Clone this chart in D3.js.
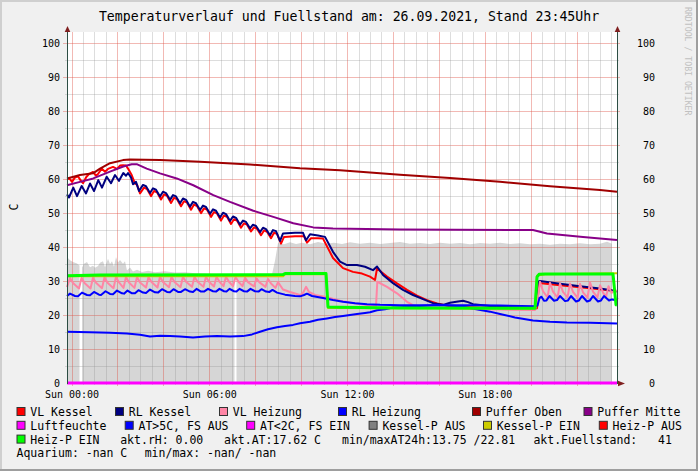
<!DOCTYPE html>
<html><head><meta charset="utf-8">
<script src="https://cdn.jsdelivr.net/npm/d3@7"></script>
<style>
html,body{margin:0;padding:0;background:#f0f0f0;}
svg{display:block;}
text{font-family:"DejaVu Sans Mono",monospace;}
</style></head><body>
<svg id="c" width="698" height="471"></svg>
<script>
// ---------------- DATA ----------------
const titleText = "Temperaturverlauf und Fuellstand am: 26.09.2021, Stand 23:45Uhr";
const yAxisTitle = "C";
const watermark = "RRDTOOL / TOBI OETIKER";
const timeDomain = [-0.196, 23.758];      // hours relative to Sun 00:00
const valueDomain = [0, 103.3];
const yTicks = [0,10,20,30,40,50,60,70,80,90,100];
const xTickHours = [0,6,12,18];
const xTickLabels = ["Sun 00:00","Sun 06:00","Sun 12:00","Sun 18:00"];

// Fuellstand (grey area), null = gap
const fuellstand = [[-0.196,37.1],[-0.065,36.1],[0.065,35.6],[0.240,35.2],[0.348,34.6],[0.37,null],[0.435,null],[0.457,34.0],[0.544,35.1],[0.675,35.6],[0.806,34.1],[0.936,34.5],[1.024,33.9],[1.154,34.4],[1.241,35.4],[1.372,35.8],[1.459,34.1],[1.590,36.6],[1.677,35.0],[1.764,35.8],[1.851,34.2],[1.938,37.1],[2.025,35.5],[2.112,36.2],[2.243,35.1],[2.330,35.8],[2.417,33.1],[2.548,34.0],[2.679,32.8],[2.853,33.3],[3.070,32.7],[3.332,33.0],[3.637,32.6],[4.072,32.9],[4.508,32.5],[4.943,32.6],[5.379,32.3],[5.815,32.2],[6.250,32.0],[6.686,31.9],[7.099,31.8],[7.13,null],[7.17,null],[7.186,31.7],[7.774,31.8],[8.297,31.8],[8.733,32.0],[8.863,36.0],[8.994,41.2],[9.255,40.8],[9.517,41.4],[9.778,40.9],[10.040,41.3],[10.388,40.8],[10.736,41.5],[11.085,41.0],[11.433,41.3],[11.781,40.9],[12.130,41.4],[12.565,41.0],[13.001,41.3],[13.436,40.9],[13.872,41.2],[14.307,41.5],[14.743,41.0],[15.178,41.2],[15.614,40.9],[16.049,41.3],[16.485,41.0],[16.920,41.2],[17.356,40.8],[17.792,41.2],[18.227,41.0],[18.663,41.3],[19.098,40.9],[19.534,41.1],[19.969,40.8],[20.405,41.0],[20.840,40.7],[21.276,41.0],[21.711,40.8],[22.147,41.1],[22.583,40.8],[23.018,41.0],[23.323,41.6],[23.540,41.0],[23.56,null]];

const vlKessel = [[-0.196,60.2],[-0.065,60.0],[0.022,59.2],[0.152,60.5],[0.283,60.8],[0.414,59.5],[0.501,58.8],[0.632,60.5],[0.762,61.5],[0.936,62.1],[1.067,61.0],[1.154,61.5],[1.315,63.1],[1.459,62.2],[1.590,63.0],[1.808,63.6],[1.982,63.0],[2.112,64.0],[2.243,64.1],[2.374,64.0],[2.461,63.1],[2.622,61.2],[2.766,58.7],[2.853,58.4],[2.984,55.8],[3.158,57.5],[3.288,57.1],[3.462,55.0],[3.593,56.5],[3.724,56.1],[3.898,54.0],[4.029,55.5],[4.159,55.1],[4.334,53.0],[4.464,54.5],[4.595,54.1],[4.769,52.0],[4.900,53.5],[5.030,53.1],[5.205,51.0],[5.335,52.5],[5.466,52.1],[5.640,50.0],[5.771,51.4],[5.902,51.0],[6.076,48.9],[6.206,50.3],[6.337,49.9],[6.511,47.8],[6.642,49.3],[6.773,48.9],[6.947,46.8],[7.077,48.2],[7.208,47.8],[7.382,45.7],[7.513,47.0],[7.644,46.6],[7.818,44.6],[7.948,45.8],[8.079,45.4],[8.253,43.5],[8.384,44.9],[8.515,44.5],[8.689,42.6],[8.820,44.2],[8.950,43.9],[9.125,41.0],[9.255,43.0],[9.734,43.2],[10.127,43.2],[10.257,41.3],[10.431,42.6],[10.736,42.6],[10.954,42.5],[11.389,36.8],[11.825,33.8],[12.261,32.7],[12.653,32.2],[13.001,31.3],[13.219,30.3],[13.306,33.7],[13.741,31.3],[14.177,29.3],[14.613,27.4],[15.048,25.7],[15.484,24.4],[15.919,23.4],[16.485,22.6],[17.356,22.3],[18.663,22.0],[20.187,21.9],[20.274,22.0],[20.361,29.4],[21.276,28.8],[22.147,28.2],[23.018,27.6],[23.758,27.0]];

const rlKessel = [[-0.196,55.5],[-0.109,54.6],[0.078,57.5],[0.240,55.0],[0.444,58.0],[0.632,55.8],[0.806,58.7],[0.980,56.5],[1.167,59.7],[1.328,57.5],[1.533,60.7],[1.720,58.8],[1.895,61.2],[2.069,59.5],[2.256,61.8],[2.374,61.0],[2.461,61.8],[2.591,60.5],[2.679,58.5],[2.809,59.2],[2.940,56.5],[3.114,58.3],[3.245,57.9],[3.419,55.9],[3.550,57.3],[3.680,56.9],[3.855,54.9],[3.985,56.3],[4.116,55.9],[4.290,53.9],[4.421,55.3],[4.551,54.9],[4.726,52.9],[4.856,54.3],[4.987,53.9],[5.161,51.9],[5.292,53.3],[5.422,52.9],[5.597,50.9],[5.727,52.2],[5.858,51.8],[6.032,49.8],[6.163,51.1],[6.293,50.7],[6.468,48.7],[6.599,50.1],[6.729,49.7],[6.903,47.7],[7.034,49.0],[7.165,48.6],[7.339,46.6],[7.469,47.8],[7.600,47.4],[7.774,45.5],[7.905,46.6],[8.036,46.2],[8.210,44.4],[8.341,45.7],[8.471,45.3],[8.646,43.5],[8.776,45.0],[8.907,44.7],[9.081,41.8],[9.212,44.0],[9.734,44.2],[10.083,44.2],[10.214,42.0],[10.388,43.8],[10.736,43.4],[11.041,43.0],[11.389,38.6],[11.694,35.7],[11.999,34.7],[12.435,34.7],[12.783,34.2],[13.131,33.2],[13.306,34.3],[13.567,31.8],[14.003,29.4],[14.438,27.4],[14.874,25.9],[15.309,24.7],[15.745,23.5],[16.180,23.0],[16.485,23.6],[16.834,24.0],[17.051,24.2],[17.269,23.8],[17.487,23.2],[18.663,22.4],[20.100,22.2],[20.231,22.3],[20.318,29.8],[20.405,30.0],[21.276,29.2],[22.147,28.5],[23.018,27.8],[23.758,27.0]];

const vlHeizung = [[-0.196,28.2],[-0.065,30.9],[0.065,29.4],[0.327,27.8],[0.436,31.0],[0.566,29.4],[0.828,27.8],[0.936,31.0],[1.067,29.5],[1.328,27.9],[1.437,31.1],[1.568,29.5],[1.829,27.9],[1.938,31.2],[2.069,29.6],[2.265,28.0],[2.374,31.2],[2.504,29.6],[2.744,28.0],[2.853,31.2],[2.984,29.6],[3.245,28.1],[3.354,31.2],[3.484,29.7],[3.746,28.1],[3.855,31.3],[3.985,29.7],[4.247,28.2],[4.355,31.3],[4.486,29.7],[4.747,28.2],[4.856,31.3],[4.987,29.8],[5.248,28.3],[5.357,31.3],[5.488,29.8],[5.749,28.3],[5.858,31.3],[5.989,29.8],[6.206,28.4],[6.315,31.3],[6.446,29.8],[6.620,28.5],[6.729,31.3],[6.860,29.8],[7.034,28.5],[7.143,31.2],[7.274,29.8],[7.448,28.5],[7.557,31.0],[7.687,29.7],[7.948,28.4],[8.057,30.8],[8.188,29.6],[8.449,28.3],[8.558,30.6],[8.689,29.3],[8.885,28.0],[8.994,29.7],[9.212,27.5],[9.517,26.8],[9.952,25.9],[10.083,26.5],[10.214,28.3],[10.344,26.8],[10.605,25.9],[11.041,25.4],[11.694,24.2],[12.130,23.7],[12.783,23.0],[13.262,22.7],[13.319,29.8],[13.741,28.3],[14.177,26.4],[14.613,23.9],[14.874,22.9],[15.178,22.4],[16.485,22.0],[17.792,21.7],[18.663,21.6],[20.187,21.5],[20.274,23.5],[20.405,29.8],[20.535,27.0],[20.731,25.2],[20.840,29.5],[20.971,26.9],[21.167,25.1],[21.276,29.3],[21.406,26.8],[21.602,25.2],[21.711,29.3],[21.842,26.8],[22.038,25.1],[22.147,29.2],[22.277,26.7],[22.473,25.1],[22.583,29.6],[22.713,26.9],[22.909,25.2],[23.018,28.8],[23.149,26.6],[23.279,25.3],[23.388,28.5],[23.519,26.5],[23.671,27.4],[23.758,27.0]];

const rlHeizung = [[-0.196,25.6],[-0.065,26.3],[0.152,25.6],[0.283,25.5],[0.457,26.6],[0.675,25.9],[0.806,25.8],[0.980,26.8],[1.198,26.0],[1.285,25.9],[1.481,27.0],[1.677,26.2],[1.808,26.1],[1.982,27.2],[2.199,26.4],[2.287,26.3],[2.439,27.2],[2.635,26.4],[2.766,26.4],[2.918,27.3],[3.114,26.6],[3.245,26.5],[3.419,27.5],[3.637,26.7],[3.767,26.6],[3.942,27.6],[4.159,26.8],[4.290,26.7],[4.442,27.6],[4.638,26.8],[4.769,26.8],[4.943,27.6],[5.161,26.9],[5.292,26.8],[5.444,27.7],[5.640,26.9],[5.771,26.9],[5.945,27.7],[6.163,27.0],[6.293,26.9],[6.446,27.7],[6.642,27.0],[6.751,26.9],[6.882,27.7],[7.077,27.0],[7.186,26.9],[7.317,27.7],[7.513,27.0],[7.644,26.9],[7.796,27.7],[7.992,27.0],[8.144,26.9],[8.275,27.6],[8.471,26.9],[8.624,26.8],[8.754,27.4],[8.950,26.6],[9.299,26.0],[9.734,25.6],[9.952,25.5],[10.127,25.9],[10.257,26.3],[10.475,25.6],[10.954,25.0],[11.389,24.4],[11.825,23.9],[12.348,23.5],[12.871,23.2],[13.436,23.0],[14.307,22.9],[17.356,22.9],[18.663,22.8],[20.187,22.6],[20.296,22.8],[20.383,25.0],[20.470,25.4],[20.579,24.2],[20.688,24.3],[20.818,25.6],[21.014,24.2],[21.145,24.4],[21.276,25.6],[21.494,24.1],[21.624,24.3],[21.755,25.6],[21.973,24.0],[22.103,24.3],[22.234,25.6],[22.452,24.0],[22.583,24.3],[22.713,25.6],[22.931,24.0],[23.062,24.3],[23.192,25.6],[23.410,24.3],[23.540,24.6],[23.671,24.4],[23.758,24.4]];

const pufferOben = [[-0.196,60.2],[0.370,61.2],[0.936,61.7],[1.241,63.1],[1.677,64.7],[2.243,65.6],[2.548,65.8],[3.855,65.6],[5.597,65.1],[7.774,64.3],[9.952,63.2],[11.694,62.6],[14.307,61.3],[16.485,60.3],[18.663,59.2],[20.840,57.9],[23.018,56.8],[23.758,56.3]];

const pufferMitte = [[-0.196,58.2],[0.370,59.2],[0.949,60.2],[1.677,62.2],[2.256,63.7],[2.622,64.4],[2.840,64.4],[3.275,63.1],[3.855,61.7],[4.582,60.2],[5.305,58.2],[6.176,55.3],[6.903,53.3],[7.918,50.7],[8.789,48.9],[9.660,47.0],[10.531,45.8],[11.389,45.5],[14.307,45.2],[20.100,45.0],[20.710,44.0],[22.278,43.0],[23.758,42.1]];

const luftfeuchte = [[-0.196,0],[23.758,0]];

const atWarm = [[-0.196,15.1],[0.806,14.9],[1.677,14.8],[2.417,14.6],[2.984,14.2],[3.419,13.7],[3.855,13.9],[4.290,13.8],[4.726,13.7],[5.292,13.4],[5.815,13.7],[6.337,13.8],[6.903,13.7],[7.469,13.8],[7.861,14.3],[8.210,15.1],[8.558,15.8],[8.950,16.4],[9.299,16.8],[9.647,17.1],[9.952,17.6],[10.388,18.0],[10.736,18.6],[11.128,19.0],[11.476,19.4],[11.825,19.7],[12.130,20.0],[12.435,20.3],[12.783,20.6],[13.001,20.8],[13.306,21.4],[13.654,21.7],[14.003,22.2],[14.307,22.3],[14.961,22.6],[15.745,22.9],[16.267,22.9],[16.920,22.6],[17.574,21.8],[18.227,21.0],[18.663,20.3],[19.316,19.3],[20.100,18.4],[20.840,18.0],[21.580,17.8],[22.583,17.7],[23.758,17.5]];

const kesselPEin = [[-0.196,31.4],[9.212,31.4],[9.299,32.0],[11.085,32.0],[11.172,22.1],[20.187,21.9],[20.274,31.6],[20.622,32.0],[23.758,32.3]];

const heizPEin = [[-0.196,31.6],[1.241,31.8],[9.212,31.9],[9.299,32.2],[11.085,32.2],[11.172,22.4],[11.694,22.3],[14.307,22.1],[20.187,22.0],[20.274,31.2],[20.361,32.0],[20.622,32.1],[23.584,32.1],[23.715,23.0],[23.758,22.9]];

// legend
const legendLabels = [
  ["VL Kessel","RL Kessel","VL Heizung","RL Heizung","Puffer Oben","Puffer Mitte"],
  ["Luftfeuchte","AT>5C, FS AUS","AT<2C, FS EIN","Kessel-P AUS","Kessel-P EIN","Heiz-P AUS"],
  ["Heiz-P EIN"]
];
const infoTexts = [
  ["akt.rH: 0.00","akt.AT:17.62 C","min/maxAT24h:13.75 /22.81","akt.Fuellstand:   41"],
  ["Aquarium: -nan C","min/max: -nan/ -nan"]
];

// ---------------- STYLE / LAYOUT ----------------
const legendColors = [
  ["#ff0000","#000080","#ff85a5","#0000ff","#a00000","#880088"],
  ["#ff00ff","#0000ff","#ff00ff","#808080","#cccc00","#ff0000"],
  ["#00ff00"]
];
const legendBoxX = [[16.5,115,219,338,472,583.5],[16.5,124.7,246.2,368.6,483,598.8],[16.5]];
const infoX = [[120.2,224,342,533.4],[16.5,144.7]];
const rowBase = [416, 429.8, 443.6, 457.4];

const W = 698, H = 471;
const plot = {l:67, r:617, t:32, b:383};

const svg = d3.select("#c");
// background + frame
svg.append("rect").attr("width",W).attr("height",H).attr("fill","#f0f0f0");
svg.append("rect").attr("x",0).attr("y",0).attr("width",W).attr("height",2).attr("fill","#cfcfcf");
svg.append("rect").attr("x",0).attr("y",0).attr("width",2).attr("height",H).attr("fill","#cfcfcf");
svg.append("rect").attr("x",W-2).attr("y",0).attr("width",2).attr("height",H).attr("fill","#9e9e9e");
svg.append("rect").attr("x",0).attr("y",H-2).attr("width",W).attr("height",2).attr("fill","#9e9e9e");

const x = d3.scaleLinear().domain(timeDomain).range([plot.l, plot.r]);
const y = d3.scaleLinear().domain(valueDomain).range([plot.b, plot.t]);

svg.append("rect").attr("x",plot.l).attr("y",plot.t).attr("width",plot.r-plot.l).attr("height",plot.b-plot.t).attr("fill","#ffffff");

// area
const area = d3.area().defined(d=>d[1]!=null).x(d=>x(d[0])).y0(y(0)).y1(d=>y(d[1]));
svg.append("path").datum(fuellstand).attr("d",area).attr("fill","#d6d6d6");

// grid
const minorCol = "rgba(143,143,143,0.30)", majorCol = "rgba(222,80,67,0.40)";
const g = svg.append("g").attr("shape-rendering","crispEdges");
const hMinor = d3.range(5,101,10), hMajor = yTicks.filter(v=>v>0);
hMinor.forEach(v=>g.append("line").attr("x1",plot.l-2).attr("x2",plot.r+2).attr("y1",Math.round(y(v))+0.5).attr("y2",Math.round(y(v))+0.5).attr("stroke",minorCol));
hMajor.forEach(v=>g.append("line").attr("x1",plot.l-4).attr("x2",plot.r+3).attr("y1",Math.round(y(v))+0.5).attr("y2",Math.round(y(v))+0.5).attr("stroke",majorCol));
const vAll = d3.range(0, 24, 0.5).filter(h=>h>timeDomain[0] && h<timeDomain[1]);
vAll.filter(h=>h%2!==0).forEach(h=>g.append("line").attr("x1",Math.round(x(h))+0.5).attr("x2",Math.round(x(h))+0.5).attr("y1",plot.t).attr("y2",plot.b+2).attr("stroke",minorCol));
vAll.filter(h=>h%2===0).forEach(h=>g.append("line").attr("x1",Math.round(x(h))+0.5).attr("x2",Math.round(x(h))+0.5).attr("y1",plot.t).attr("y2",plot.b+3).attr("stroke",majorCol));

// bottom axis line
svg.append("line").attr("x1",plot.l).attr("x2",plot.r+1).attr("y1",plot.b+0.5).attr("y2",plot.b+0.5).attr("stroke","#2c4d43");

// series lines
const line = d3.line().x(d=>x(d[0])).y(d=>y(d[1]));
const series = [
  [vlKessel,"#ff0000",2],
  [rlKessel,"#000080",2],
  [vlHeizung,"#ff85a5",2],
  [rlHeizung,"#0000ff",2],
  [pufferOben,"#a00000",2],
  [pufferMitte,"#880088",2],
  [luftfeuchte,"#ff00ff",3],
  [atWarm,"#0000ff",2],
  [kesselPEin,"#cccc00",2],
  [heizPEin,"#00ff00",3]
];
series.forEach(([d,c,w])=>{
  svg.append("path").datum(d).attr("d",line).attr("fill","none").attr("stroke",c).attr("stroke-width",w).attr("stroke-linejoin","round");
});

// axes
const fontAxis = {"font-family":"DejaVu Sans Mono","font-size":"10px"};
const ax = svg.append("g").attr("transform",`translate(${plot.l},0)`).call(d3.axisLeft(y).tickValues(yTicks).tickSize(0).tickPadding(7).tickFormat(d3.format("d")));
ax.select(".domain").remove();
ax.selectAll("text").attr("font-size","10px").attr("font-family","DejaVu Sans Mono").attr("fill","#000");
const axr = svg.append("g").attr("transform",`translate(${plot.r},0)`).call(d3.axisRight(y).tickValues(yTicks).tickSize(0).tickFormat(d3.format("d")));
axr.select(".domain").remove();
axr.selectAll("text").attr("x",38).attr("text-anchor","end").attr("font-size","10px").attr("font-family","DejaVu Sans Mono").attr("fill","#000");
const axb = svg.append("g").attr("transform",`translate(0,${plot.b})`).call(d3.axisBottom(x).tickValues(xTickHours).tickSize(0).tickPadding(7.4).tickFormat((d,i)=>xTickLabels[i]));
axb.select(".domain").remove();
axb.selectAll("text").attr("font-size","10px").attr("font-family","DejaVu Sans Mono").attr("fill","#000");

// vertical axis lines
svg.append("line").attr("x1",plot.l+0.5).attr("x2",plot.l+0.5).attr("y1",plot.t-2).attr("y2",plot.b+1).attr("stroke","#2c4d43");
svg.append("line").attr("x1",plot.r+0.5).attr("x2",plot.r+0.5).attr("y1",plot.t-2).attr("y2",plot.b+1).attr("stroke","#2c4d43");
// arrows
const arrowCol = "#7f1f1f";
[plot.l+0.5, plot.r+0.5].forEach(ax0=>{
  svg.append("path").attr("d",`M${ax0},${plot.t-6} L${ax0-2.8},${plot.t} L${ax0+2.8},${plot.t} Z`).attr("fill",arrowCol);
});
svg.append("path").attr("d",`M${plot.r+8},${plot.b+0.5} L${plot.r+1},${plot.b-2.3} L${plot.r+1},${plot.b+3.3} Z`).attr("fill",arrowCol);

// title
svg.append("text").attr("x",W/2).attr("y",21).attr("text-anchor","middle").attr("font-size","13.2px").attr("fill","#000").text(titleText);
// y title
svg.append("text").attr("transform","translate(18,207) rotate(-90)").attr("text-anchor","middle").attr("font-size","11.5px").attr("fill","#000").text(yAxisTitle);
// watermark
svg.append("text").attr("transform","translate(685,7) rotate(90)").attr("text-anchor","start").attr("font-size","8.2px").attr("fill","#c0c0c0").text(watermark);

// legend
legendLabels.forEach((row,ri)=>{
  row.forEach((lab,ci)=>{
    const bx = legendBoxX[ri][ci], by = rowBase[ri];
    svg.append("rect").attr("x",bx+0.5).attr("y",by-8.5).attr("width",8).attr("height",8)
      .attr("fill",legendColors[ri][ci]).attr("stroke","#333").attr("stroke-width",1);
    svg.append("text").attr("x",bx+13.8).attr("y",by).attr("font-size","11.5px").attr("fill","#000").style("white-space","pre").text(lab);
  });
});
infoTexts.forEach((row,ri)=>{
  row.forEach((t,ci)=>{
    svg.append("text").attr("x",infoX[ri][ci]).attr("y",rowBase[ri+2]).attr("font-size","11.5px").attr("fill","#000").style("white-space","pre").text(t);
  });
});
</script>
</body></html>
